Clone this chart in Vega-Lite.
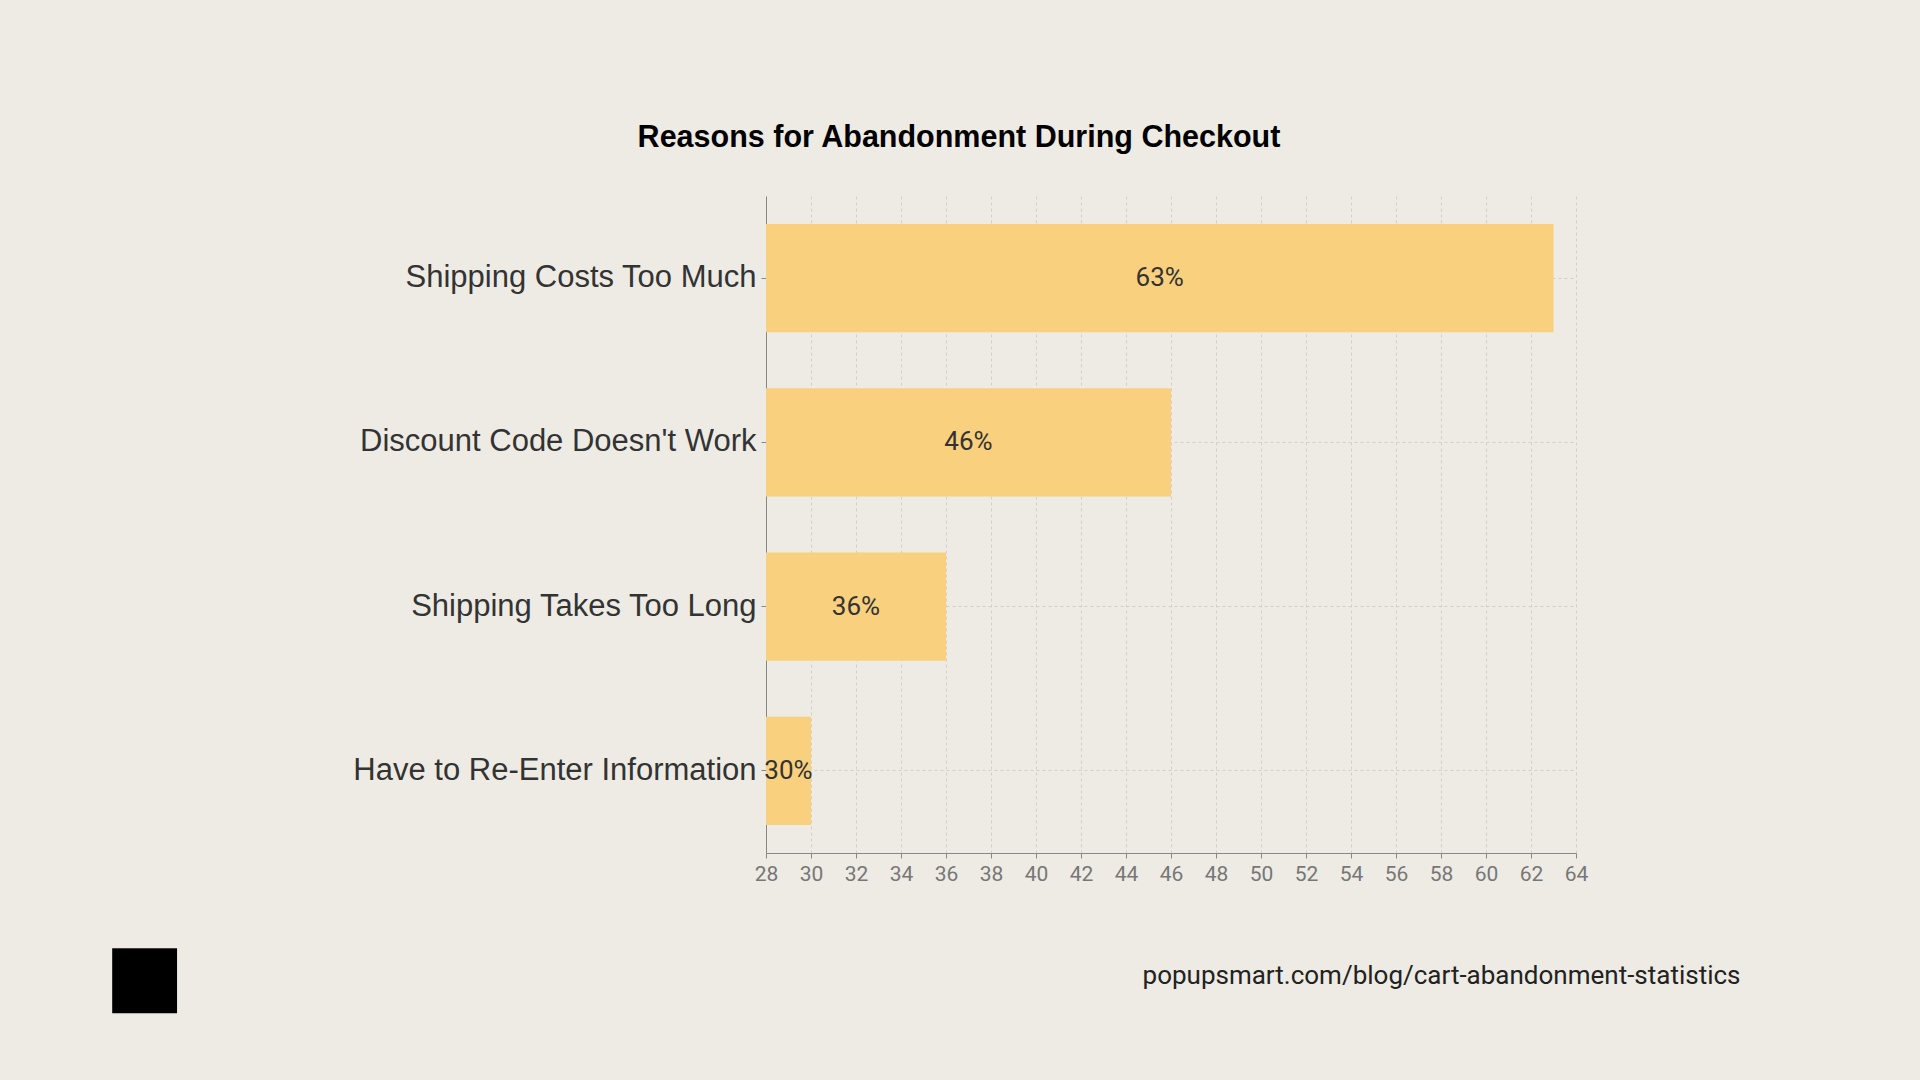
{
  "$schema": "https://vega.github.io/schema/vega-lite/v6.json",
  "width": 810,
  "height": 657,
  "autosize": {"type": "none"},
  "padding": {"left": 766, "top": 196, "right": 344, "bottom": 227},
  "background": "#EDEBE3",
  "title": {
    "text": "Reasons for Abandonment During Checkout",
    "font": "Liberation Sans",
    "fontSize": 30.5,
    "fontWeight": "bold",
    "color": "#000000",
    "anchor": "middle",
    "frame": "group",
    "baseline": "alphabetic",
    "dx": -212,
    "offset": 19
  },
  "data": {
    "values": [
      {"reason": "Shipping Costs Too Much", "value": 63, "label": "63%"},
      {"reason": "Discount Code Doesn't Work", "value": 46, "label": "46%"},
      {"reason": "Shipping Takes Too Long", "value": 36, "label": "36%"},
      {"reason": "Have to Re-Enter Information", "value": 30, "label": "30%"}
    ]
  },
  "transform": [{"calculate": "(datum.value + 28) / 2", "as": "mid"}],
  "encoding": {
    "y": {
      "field": "reason",
      "type": "nominal",
      "sort": null,
      "scale": {"paddingInner": 0.34, "paddingOuter": 0.17},
      "axis": {
        "labelFont": "Liberation Sans",
        "labelFontSize": 31,
        "labelColor": "#333333",
        "labelLimit": 600,
        "labelPadding": 5,
        "tickSize": 5,
        "tickColor": "#888888",
        "domainColor": "#888888",
        "grid": true,
        "gridColor": "#D2D0C8",
        "gridDash": [3, 3],
        "title": "■",
        "titleFont": "DejaVu Sans",
        "titleFontSize": 85,
        "titleFontWeight": "normal",
        "titleColor": "#000000",
        "titleAngle": 0,
        "titleAlign": "center",
        "titleBaseline": "middle",
        "titleX": -622,
        "titleY": 780
      }
    }
  },
  "layer": [
    {
      "mark": {"type": "bar", "color": "#F8D07E", "clip": true},
      "encoding": {
        "x": {
          "field": "value",
          "type": "quantitative",
          "scale": {"domain": [28, 64], "zero": false, "nice": false},
          "axis": {
            "values": [28, 30, 32, 34, 36, 38, 40, 42, 44, 46, 48, 50, 52, 54, 56, 58, 60, 62, 64],
            "labelFlush": false,
            "labelFont": "Roboto",
            "labelFontSize": 21,
            "labelColor": "#777777",
            "labelPadding": 5,
            "tickSize": 5,
            "tickColor": "#888888",
            "domainColor": "#888888",
            "grid": true,
            "gridColor": "#D2D0C8",
            "gridDash": [3, 3],
            "title": "popupsmart.com/blog/cart-abandonment-statistics",
            "titleFont": "Roboto",
            "titleFontSize": 26,
            "titleFontWeight": "normal",
            "titleColor": "#222222",
            "titleAlign": "right",
            "titleBaseline": "middle",
            "titleX": 974,
            "titleY": 122
          }
        }
      }
    },
    {
      "mark": {"type": "text", "font": "Roboto", "fontSize": 26, "color": "#333333", "align": "center", "baseline": "middle"},
      "encoding": {
        "x": {"field": "mid", "type": "quantitative"},
        "text": {"field": "label"}
      }
    }
  ],
  "config": {"view": {"stroke": null}}
}
